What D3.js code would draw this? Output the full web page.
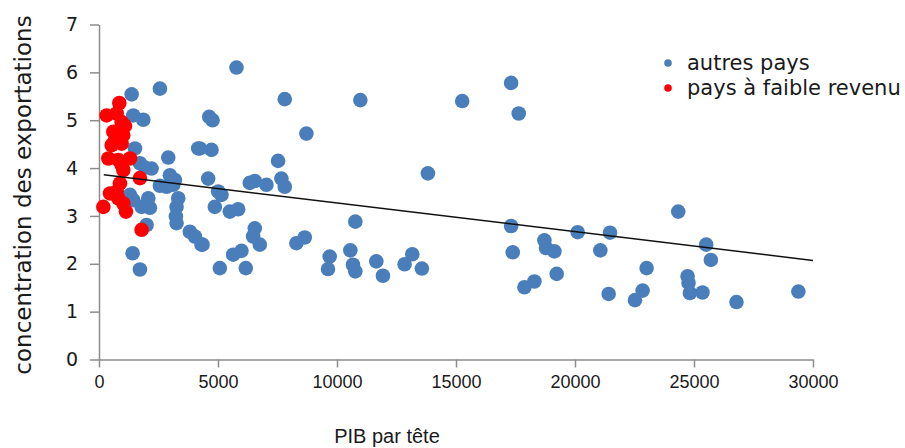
<!DOCTYPE html>
<html>
<head>
<meta charset="utf-8">
<script src="https://cdn.jsdelivr.net/npm/d3@7"></script>
<style>
  body { margin: 0; background: #fff; }
  .axis path, .axis line { stroke: #8c8c8c; stroke-width: 1.5; }
</style>
</head>
<body>
<div id="chart"></div>
<script>
// autres pays : [PIB par tête, concentration]
const autresPays = [
  [24337, 3.09], [20112, 2.66], [21470, 2.65], [18714, 2.49], [18784, 2.33],
  [19134, 2.26], [21064, 2.28], [25512, 2.40], [25708, 2.08], [18294, 1.63],
  [19231, 1.79], [23008, 1.91], [21414, 1.37], [22841, 1.44], [22520, 1.24],
  [24730, 1.74], [24770, 1.60], [24828, 1.39], [25356, 1.40], [26784, 1.20],
  [29385, 1.42],
  [10980, 5.42], [15260, 5.40], [17316, 5.78], [17636, 5.14], [13819, 3.89],
  [10770, 2.88], [17316, 2.79], [10560, 2.28], [10672, 1.98], [10770, 1.84],
  [11652, 2.05], [11930, 1.75], [13162, 2.20], [12840, 1.99], [13566, 1.90],
  [17384, 2.24], [17875, 1.51],
  [5777, 6.10], [7805, 5.44], [4629, 5.07], [4770, 5.00], [8714, 4.72],
  [4238, 4.41], [4727, 4.38], [7524, 4.15], [4587, 3.78], [6336, 3.69],
  [6546, 3.73], [7035, 3.65], [7664, 3.78], [7805, 3.61], [5007, 3.51],
  [5147, 3.44], [4867, 3.19], [5497, 3.09], [5846, 3.14], [6546, 2.74],
  [6476, 2.57], [6756, 2.40], [4350, 2.40], [5637, 2.19], [5986, 2.27],
  [5077, 1.91], [6168, 1.91], [8294, 2.43], [8644, 2.55], [9693, 2.15],
  [9622, 1.89],
  [1371, 5.54], [2560, 5.66], [1441, 5.10], [1860, 5.01], [1511, 4.41],
  [4168, 4.41], [2909, 4.22], [1720, 4.10], [1930, 4.01], [2210, 3.99],
  [2979, 3.85], [3189, 3.75], [3119, 3.65], [2560, 3.63], [2840, 3.61],
  [1301, 3.44], [1441, 3.33], [2070, 3.37], [3329, 3.37], [3259, 3.19],
  [1790, 3.19], [2140, 3.17], [3231, 2.99], [3259, 2.85], [3818, 2.67],
  [4028, 2.57], [4308, 2.40], [2000, 2.81], [1413, 2.22], [1720, 1.88]
];

// pays à faible revenu
const faibleRevenu = [
  [853, 5.36], [322, 5.10], [743, 5.14], [952, 4.96], [1091, 4.88],
  [602, 4.76], [671, 4.58], [532, 4.48], [1021, 4.69], [952, 4.51],
  [392, 4.20], [811, 4.17], [1301, 4.20], [952, 4.06], [1021, 3.96],
  [881, 3.68], [1720, 3.79], [462, 3.47], [743, 3.51], [811, 3.37],
  [182, 3.19], [1021, 3.26], [1133, 3.09], [1790, 2.71]
];

// droite de tendance
const tendance = [[200, 3.86], [30000, 2.07]];

const xTicks = [0, 5000, 10000, 15000, 20000, 25000, 30000];
const yTicks = [0, 1, 2, 3, 4, 5, 6, 7];

const series = [
  { name: 'autres pays', color: '#4a7ebb', data: autresPays },
  { name: 'pays à faible revenu', color: '#ff0000', data: faibleRevenu }
];

const width = 905;
const height = 448;

const svg = d3.select('#chart').append('svg')
  .attr('width', width)
  .attr('height', height);

const x = d3.scaleLinear().domain([0, 30000]).range([99, 813]);
const y = d3.scaleLinear().domain([0, 7]).range([359.5, 24.5]);

const xAxis = d3.axisBottom(x).tickValues(xTicks).tickSize(8).tickSizeOuter(0).tickPadding(8)
  .tickFormat(d3.format('d'));
const yAxis = d3.axisLeft(y).tickValues(yTicks).tickSize(9).tickSizeOuter(0).tickPadding(12)
  .tickFormat(d3.format('d'));

const gx = svg.append('g')
  .attr('class', 'axis')
  .attr('transform', `translate(0, ${y(0)})`)
  .call(xAxis);
gx.selectAll('text')
  .attr('fill', '#1a1a1a')
  .style('font-family', '"Liberation Sans", Arial, sans-serif')
  .style('font-size', '18px');

const gy = svg.append('g')
  .attr('class', 'axis')
  .attr('transform', `translate(${x(0)}, 0)`)
  .call(yAxis);
gy.selectAll('text')
  .attr('fill', '#1a1a1a')
  .style('font-family', '"DejaVu Sans", Verdana, sans-serif')
  .style('font-size', '19px');

// points
series.forEach((s) => {
  svg.append('g').selectAll('circle')
    .data(s.data)
    .enter()
    .append('circle')
    .attr('cx', (d) => x(d[0]))
    .attr('cy', (d) => y(d[1]))
    .attr('r', 7.3)
    .attr('fill', s.color);
});

// tendance
svg.append('path')
  .datum(tendance)
  .attr('d', d3.line().x((d) => x(d[0])).y((d) => y(d[1])))
  .attr('fill', 'none')
  .attr('stroke', '#111')
  .attr('stroke-width', 1.5);

// titres des axes
svg.append('text')
  .attr('transform', 'translate(31, 195) rotate(-90)')
  .attr('text-anchor', 'middle')
  .attr('fill', '#1a1a1a')
  .style('font-family', '"DejaVu Sans", Verdana, sans-serif')
  .style('font-size', '23px')
  .text('concentration des exportations');

svg.append('text')
  .attr('x', 387)
  .attr('y', 443)
  .attr('text-anchor', 'middle')
  .attr('fill', '#1a1a1a')
  .style('font-family', '"Liberation Sans", Arial, sans-serif')
  .style('font-size', '20px')
  .text('PIB par tête');

// légende
const legend = svg.append('g').attr('transform', 'translate(668, 63)');
const items = legend.selectAll('g')
  .data(series)
  .enter()
  .append('g')
  .attr('transform', (d, i) => `translate(0, ${i * 25})`);
items.append('circle')
  .attr('r', 3.8)
  .attr('fill', (d) => d.color);
items.append('text')
  .attr('x', 19)
  .attr('dy', '0.35em')
  .attr('fill', '#1a1a1a')
  .style('font-family', '"DejaVu Sans", Verdana, sans-serif')
  .style('font-size', '21px')
  .text((d) => d.name);
</script>
</body>
</html>
